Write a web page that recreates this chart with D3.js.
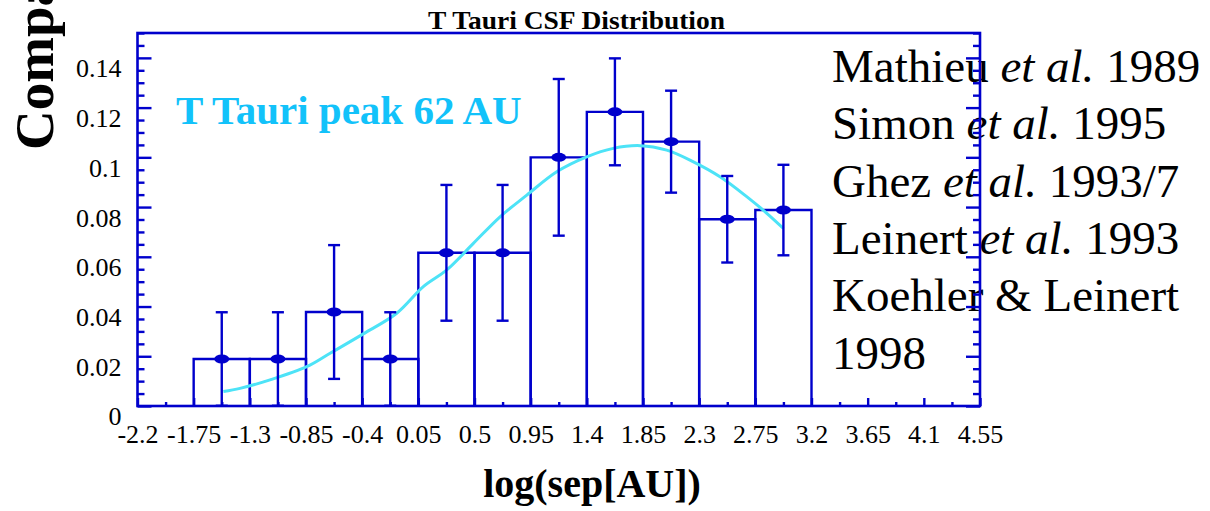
<!DOCTYPE html>
<html>
<head>
<meta charset="utf-8">
<script src="https://cdn.jsdelivr.net/npm/d3@7"></script>
<style>
  html, body { margin: 0; padding: 0; background: #fff; }
  svg { display: block; font-family: "Liberation Serif", "Times New Roman", serif; }
</style>
</head>
<body>
<svg id="chart" width="1210" height="511"></svg>
<script>
// Separation histogram (bin lower edges, width 0.45 in log AU)
const binLo = [-1.75, -1.3, -0.85, -0.4, 0.05, 0.5, 0.95, 1.4, 1.85, 2.3, 2.75];
const binWidth = 0.45;
const binValue = [0.0189, 0.0189, 0.0378, 0.0189, 0.0616, 0.0616, 0.1000, 0.1183, 0.1063, 0.0751, 0.0788];
const binError = [0.0188, 0.0188, 0.0269, 0.0188, 0.0273, 0.0273, 0.0315, 0.0215, 0.0205, 0.0174, 0.0182];

// Log-normal fit, sampled along the curve
const fitX = [-1.512, -1.379, -1.138, -0.844, -0.657, -0.391, -0.123, 0.090, 0.278, 0.491, 0.705,
              0.919, 1.159, 1.399, 1.612, 1.826, 2.040, 2.254, 2.467, 2.681, 2.842, 2.975];
const fitY = [0.0058, 0.0071, 0.0105, 0.0158, 0.0212, 0.0290, 0.0373, 0.0480, 0.0547, 0.0654, 0.0761,
              0.0848, 0.0942, 0.1002, 0.1036, 0.1047, 0.1029, 0.0982, 0.0922, 0.0842, 0.0775, 0.0714];

const xTicks = [-2.2, -1.75, -1.3, -0.85, -0.4, 0.05, 0.5, 0.95, 1.4, 1.85, 2.3, 2.75, 3.2, 3.65, 4.1, 4.55];
const xTickLabels = ["-2.2", "-1.75", "-1.3", "-0.85", "-0.4", "0.05", "0.5", "0.95", "1.4", "1.85", "2.3", "2.75", "3.2", "3.65", "4.1", "4.55"];
const yTicks = [0, 0.02, 0.04, 0.06, 0.08, 0.1, 0.12, 0.14];
const yTickLabels = ["0", "0.02", "0.04", "0.06", "0.08", "0.1", "0.12", "0.14"];

const references = [
  [["Mathieu ", false], ["et al.", true], [" 1989", false]],
  [["Simon ", false], ["et al.", true], [" 1995", false]],
  [["Ghez ", false], ["et al.", true], [" 1993/7", false]],
  [["Leinert ", false], ["et al.", true], [" 1993", false]],
  [["Koehler & Leinert", false]],
  [["1998", false]]
];

const BLUE = "#0000cc";
const FIT = "#4de3f7";
const NOTE = "#12c2fa";

const svg = d3.select("#chart");
const plotL = 137.5, plotR = 980, plotT = 33, plotB = 406;

const x = d3.scaleLinear().domain([-2.2, 4.55]).range([plotL, plotR]);
const y = d3.scaleLinear().domain([0, 0.15]).range([plotB, plotT]);

// Title
svg.append("text")
  .attr("x", (428 + 725) / 2).attr("y", 29)
  .attr("text-anchor", "middle")
  .attr("font-size", 25).attr("font-weight", "bold")
  .attr("textLength", 297).attr("lengthAdjust", "spacingAndGlyphs")
  .text("T Tauri CSF Distribution");

// Y axis title (runs off the top edge)
svg.append("text")
  .attr("transform", "translate(53,150) rotate(-90)")
  .attr("font-size", 55).attr("font-weight", "bold")
  .text("Companion Fraction");

// X axis title
svg.append("text")
  .attr("x", 592).attr("y", 497)
  .attr("text-anchor", "middle")
  .attr("font-size", 40).attr("font-weight", "bold")
  .text("log(sep[AU])");

// Reference list
const refs = svg.append("g").attr("font-size", 47).attr("fill", "#000");
references.forEach((parts, i) => {
  const t = refs.append("text").attr("x", 832).attr("y", 82 + i * 57.3);
  parts.forEach(([s, it]) => {
    t.append("tspan").attr("font-style", it ? "italic" : "normal").text(s);
  });
});

// Peak annotation
svg.append("text")
  .attr("x", 176).attr("y", 124)
  .attr("font-size", 41).attr("font-weight", "bold")
  .attr("fill", NOTE)
  .text("T Tauri peak 62 AU");

// Histogram outlines
const bins = binLo.map((lo, i) => ({ lo, hi: lo + binWidth, v: binValue[i], e: binError[i] }));
svg.append("g")
  .selectAll("path").data(bins).join("path")
  .attr("d", d => `M${x(d.lo)},${y(0)}V${y(d.v)}H${x(d.hi)}V${y(0)}`)
  .attr("fill", "none").attr("stroke", BLUE).attr("stroke-width", 2.4);

// Fit curve
svg.append("path")
  .datum(fitX.map((v, i) => [v, fitY[i]]))
  .attr("d", d3.line().x(d => x(d[0])).y(d => y(d[1])).curve(d3.curveCatmullRom))
  .attr("fill", "none").attr("stroke", FIT).attr("stroke-width", 3);

// Error bars and points at bin centres
const eb = svg.append("g").attr("stroke", BLUE).attr("stroke-width", 2.4);
bins.forEach(d => {
  const cx = x(d.lo + binWidth / 2);
  const lo = Math.max(0, d.v - d.e), hi = d.v + d.e;
  eb.append("line").attr("x1", cx).attr("x2", cx).attr("y1", y(lo)).attr("y2", y(hi));
  eb.append("line").attr("x1", cx - 6).attr("x2", cx + 6).attr("y1", y(hi)).attr("y2", y(hi));
  if (lo > 0) eb.append("line").attr("x1", cx - 6).attr("x2", cx + 6).attr("y1", y(lo)).attr("y2", y(lo));
});
svg.append("g").selectAll("ellipse").data(bins).join("ellipse")
  .attr("cx", d => x(d.lo + binWidth / 2)).attr("cy", d => y(d.v))
  .attr("rx", 7.5).attr("ry", 4.5).attr("fill", BLUE);

// Axes: ticks point inward
function styleAxis(g) {
  g.select(".domain").remove();
  g.selectAll(".tick line").attr("stroke", BLUE).attr("stroke-width", 2.4);
  g.selectAll("text").attr("fill", "#000").attr("font-size", 26)
    .attr("font-family", "Liberation Serif, Times New Roman, serif");
}

const yMinor = d3.range(0, 0.1501, 0.005).filter(v => Math.abs(v / 0.02 - Math.round(v / 0.02)) > 1e-6);
const xMinor = d3.range(-2.2, 4.55, 0.45).map(v => v + 0.225);

svg.append("g").attr("transform", `translate(${plotL},0)`)
  .call(d3.axisLeft(y).tickValues(yTicks).tickSize(-14).tickPadding(16)
    .tickFormat((d, i) => yTickLabels[i]))
  .call(styleAxis)
  .call(g => g.selectAll("text").attr("dy", "0.73em"));
svg.append("g").attr("transform", `translate(${plotL},0)`)
  .call(d3.axisLeft(y).tickValues(yMinor).tickSize(-7).tickFormat(""))
  .call(styleAxis);

svg.append("g").attr("transform", `translate(${plotR},0)`)
  .call(d3.axisRight(y).tickValues(yTicks).tickSize(-14).tickFormat(""))
  .call(styleAxis);
svg.append("g").attr("transform", `translate(${plotR},0)`)
  .call(d3.axisRight(y).tickValues(yMinor).tickSize(-7).tickFormat(""))
  .call(styleAxis);

svg.append("g").attr("transform", `translate(0,${plotB})`)
  .call(d3.axisBottom(x).tickValues(xTicks).tickSize(-8).tickPadding(19)
    .tickFormat((d, i) => xTickLabels[i]))
  .call(styleAxis);
svg.append("g").attr("transform", `translate(0,${plotB})`)
  .call(d3.axisBottom(x).tickValues(xMinor).tickSize(-4).tickFormat(""))
  .call(styleAxis);

// Frame
svg.append("rect")
  .attr("x", plotL).attr("y", plotT)
  .attr("width", plotR - plotL).attr("height", plotB - plotT)
  .attr("fill", "none").attr("stroke", BLUE).attr("stroke-width", 2.6);
</script>
</body>
</html>
